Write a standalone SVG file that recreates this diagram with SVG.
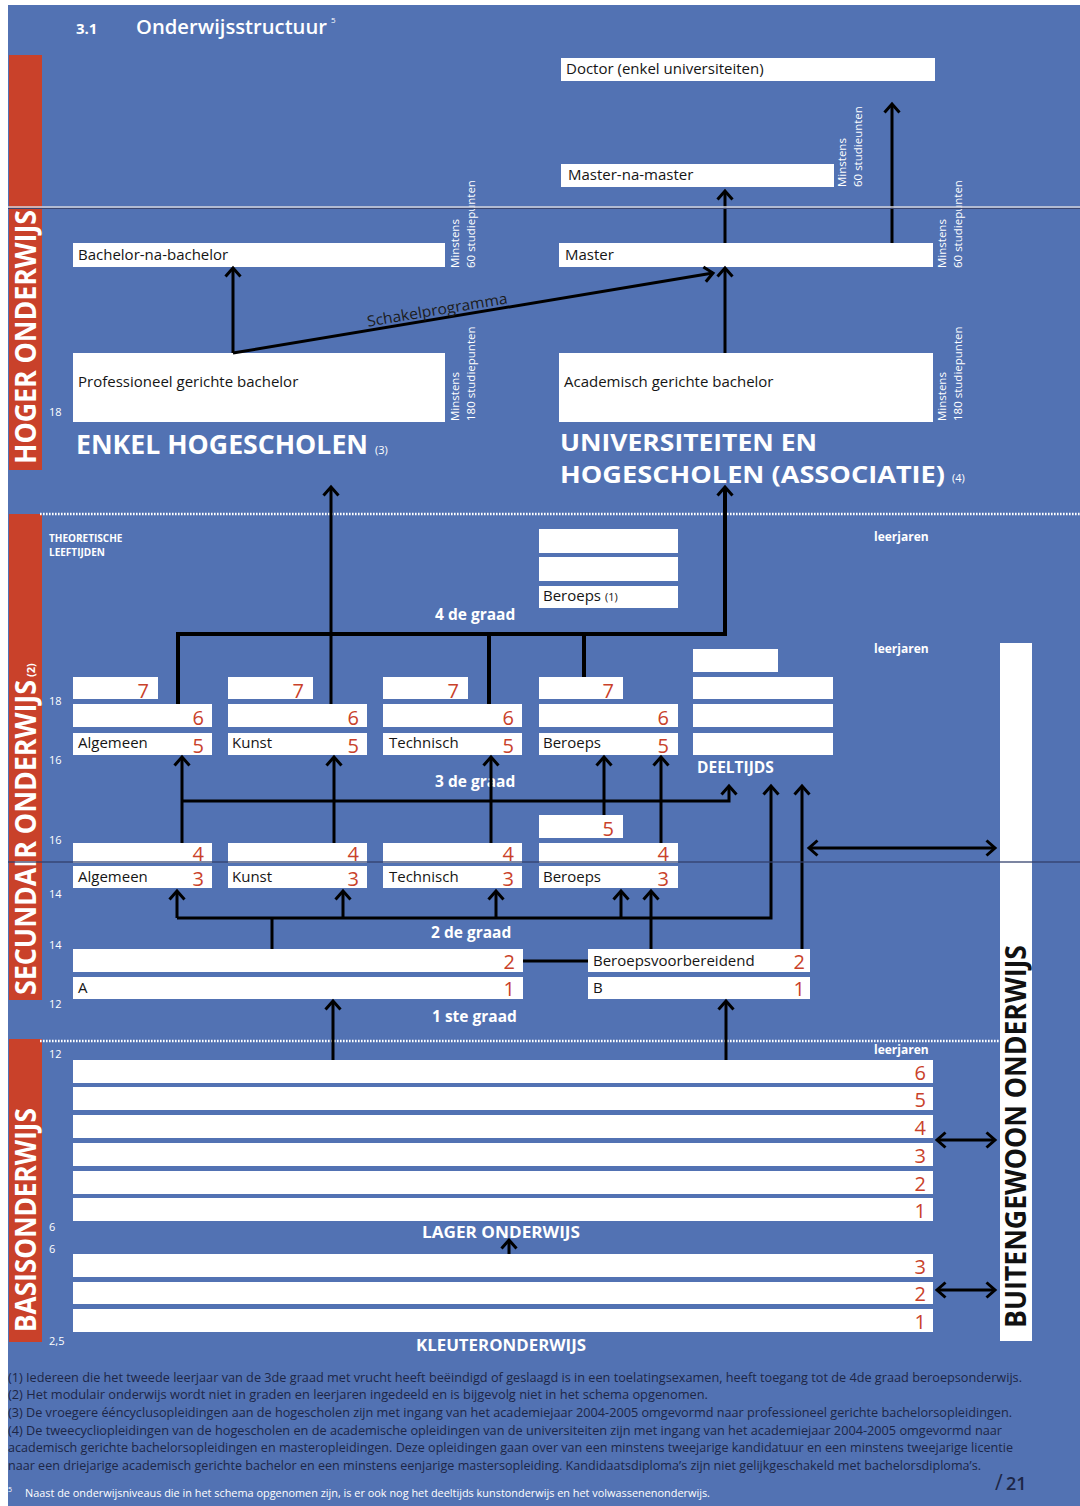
<svg xmlns="http://www.w3.org/2000/svg" width="1080" height="1506" viewBox="0 0 1080 1506">
<defs>
<style>
text{font-family:"Open Sans","Noto Sans","DejaVu Sans",sans-serif}
.bg{fill:#5272b3}
.rb{fill:#c9412a}
.bx{fill:#fff}
.bt{font-size:15px;fill:#151515;font-weight:500}
.dg{font-size:20px;fill:#c9412a;text-anchor:end;font-weight:500}
.hd{fill:#fff;font-weight:700}
.sm{font-size:11.5px;fill:#fff}
.age{font-size:11px;fill:#fff}
.ln{fill:none;stroke:#000;stroke-width:3}
.tk{stroke-width:4}
.ar{marker-end:url(#ah)}
.da{marker-start:url(#ah);marker-end:url(#ah)}
.fn{font-size:12px;fill:#1d2646}
.dot{stroke:#fff;stroke-width:2.5;stroke-dasharray:1.6 1.4}
</style>
<marker id="ah" markerUnits="userSpaceOnUse" viewBox="-12 -10 14 20" markerWidth="14" markerHeight="20" refX="0" refY="0" orient="auto-start-reverse" style="overflow:visible">
<path d="M-8.5,-7.5 L0,0 L-8.5,7.5" fill="none" stroke="#000" stroke-width="3"/>
</marker>
</defs>

<rect x="0" y="0" width="1080" height="1506" fill="#fff"/>
<rect class="bg" x="8" y="5" width="1072" height="1501"/>

<!-- side bars -->
<rect class="rb" x="9" y="55" width="33" height="415"/>
<rect class="rb" x="9" y="514" width="33" height="486"/>
<rect class="rb" x="9" y="1039" width="33" height="303"/>
<text class="hd" transform="translate(36,464) rotate(-90)" font-size="29" textLength="254" lengthAdjust="spacingAndGlyphs">HOGER ONDERWIJS</text>
<text class="hd" transform="translate(36,995) rotate(-90)" font-size="29" textLength="315" lengthAdjust="spacingAndGlyphs">SECUNDAIR ONDERWIJS</text>
<text class="hd" transform="translate(35,677) rotate(-90)" font-size="11">(2)</text>
<text class="hd" transform="translate(36,1332) rotate(-90)" font-size="29" textLength="224" lengthAdjust="spacingAndGlyphs">BASISONDERWIJS</text>

<!-- dotted separators -->
<line class="dot" x1="40" y1="514" x2="1080" y2="514"/>
<line class="dot" x1="40" y1="1041" x2="1000" y2="1041"/>

<!-- title -->
<text class="hd" x="76" y="34" font-size="15">3.1</text>
<text x="136" y="34" font-size="20" font-weight="600" fill="#fff" textLength="191" lengthAdjust="spacingAndGlyphs">Onderwijsstructuur</text>
<text x="331" y="23" font-size="8" fill="#fff">5</text>

<!-- age labels -->
<g id="ages">
<text class="age" x="49" y="416">18</text>
<text class="hd" x="49" y="542" font-size="10">THEORETISCHE</text>
<text class="hd" x="49" y="556" font-size="10">LEEFTIJDEN</text>
<text class="age" x="49" y="705">18</text>
<text class="age" x="49" y="764">16</text>
<text class="age" x="49" y="844">16</text>
<text class="age" x="49" y="898">14</text>
<text class="age" x="49" y="949">14</text>
<text class="age" x="49" y="1008">12</text>
<text class="age" x="49" y="1058">12</text>
<text class="age" x="49" y="1231">6</text>
<text class="age" x="49" y="1253">6</text>
<text class="age" x="49" y="1345">2,5</text>
<text class="hd" x="874" y="541" font-size="12">leerjaren</text>
<text class="hd" x="874" y="653" font-size="12">leerjaren</text>
<text class="hd" x="874" y="1054" font-size="12">leerjaren</text>
</g>

<!-- HOGER ONDERWIJS nodes -->
<g id="doctor">
<rect class="bx" x="561" y="58" width="374" height="23"/>
<text class="bt" x="566" y="74">Doctor (enkel universiteiten)</text>
</g>
<g id="master-na-master">
<rect class="bx" x="561" y="164" width="273" height="23"/>
<text class="bt" x="568" y="180">Master-na-master</text>
<text class="sm" transform="translate(846,187) rotate(-90)"><tspan x="0" y="0">Minstens</tspan><tspan x="0" y="16">60 studieunten</tspan></text>
</g>
<g id="master">
<rect class="bx" x="559" y="243" width="374" height="24"/>
<text class="bt" x="565" y="260">Master</text>
<text class="sm" transform="translate(946,268) rotate(-90)"><tspan x="0" y="0">Minstens</tspan><tspan x="0" y="16">60 studiepunten</tspan></text>
</g>
<g id="bachelor-na-bachelor">
<rect class="bx" x="73" y="243" width="372" height="24"/>
<text class="bt" x="78" y="260">Bachelor-na-bachelor</text>
<text class="sm" transform="translate(459,268) rotate(-90)"><tspan x="0" y="0">Minstens</tspan><tspan x="0" y="16">60 studiepunten</tspan></text>
</g>
<g id="prof-bachelor">
<rect class="bx" x="73" y="353" width="372" height="69"/>
<text class="bt" x="78" y="387">Professioneel gerichte bachelor</text>
<text class="sm" transform="translate(459,421) rotate(-90)"><tspan x="0" y="0">Minstens</tspan><tspan x="0" y="16">180 studiepunten</tspan></text>
</g>
<g id="acad-bachelor">
<rect class="bx" x="559" y="353" width="374" height="69"/>
<text class="bt" x="564" y="387">Academisch gerichte bachelor</text>
<text class="sm" transform="translate(946,421) rotate(-90)"><tspan x="0" y="0">Minstens</tspan><tspan x="0" y="16">180 studiepunten</tspan></text>
</g>
<g id="enkel-hogescholen">
<text class="hd" x="76" y="454" font-size="26" font-weight="600" textLength="292" lengthAdjust="spacingAndGlyphs">ENKEL HOGESCHOLEN</text>
<text x="375" y="454" font-size="11" fill="#fff">(3)</text>
</g>
<g id="universiteiten">
<text class="hd" x="560" y="451" font-size="23" font-weight="600" textLength="257" lengthAdjust="spacingAndGlyphs">UNIVERSITEITEN EN</text>
<text class="hd" x="560" y="483" font-size="23" font-weight="600" textLength="385" lengthAdjust="spacingAndGlyphs">HOGESCHOLEN (ASSOCIATIE)</text>
<text x="952" y="482" font-size="11" fill="#fff">(4)</text>
</g>

<!-- SECUNDAIR: 4de graad -->
<g id="graad4-beroeps">
<rect class="bx" x="539" y="529" width="139" height="24"/>
<rect class="bx" x="539" y="557" width="139" height="24"/>
<rect class="bx" x="539" y="586" width="139" height="22"/>
<text class="bt" x="543" y="601">Beroeps <tspan font-size="11">(1)</tspan></text>
</g>
<text class="hd" x="435" y="620" font-size="15.5">4 de graad</text>

<!-- 3de graad -->
<g id="graad3-algemeen">
<rect class="bx" x="73" y="677" width="85" height="22"/><text class="dg" x="149" y="698">7</text>
<rect class="bx" x="73" y="704" width="139" height="23"/><text class="dg" x="204" y="725">6</text>
<rect class="bx" x="73" y="733" width="139" height="22"/><text class="dg" x="204" y="753">5</text>
<text class="bt" x="78" y="748">Algemeen</text>
</g>
<g id="graad3-kunst">
<rect class="bx" x="228" y="677" width="85" height="22"/><text class="dg" x="304" y="698">7</text>
<rect class="bx" x="228" y="704" width="139" height="23"/><text class="dg" x="359" y="725">6</text>
<rect class="bx" x="228" y="733" width="139" height="22"/><text class="dg" x="359" y="753">5</text>
<text class="bt" x="232" y="748">Kunst</text>
</g>
<g id="graad3-technisch">
<rect class="bx" x="383" y="677" width="85" height="22"/><text class="dg" x="459" y="698">7</text>
<rect class="bx" x="383" y="704" width="139" height="23"/><text class="dg" x="514" y="725">6</text>
<rect class="bx" x="383" y="733" width="139" height="22"/><text class="dg" x="514" y="753">5</text>
<text class="bt" x="389" y="748">Technisch</text>
</g>
<g id="graad3-beroeps">
<rect class="bx" x="539" y="677" width="84" height="22"/><text class="dg" x="614" y="698">7</text>
<rect class="bx" x="539" y="704" width="139" height="23"/><text class="dg" x="669" y="725">6</text>
<rect class="bx" x="539" y="733" width="139" height="22"/><text class="dg" x="669" y="753">5</text>
<text class="bt" x="543" y="748">Beroeps</text>
</g>
<g id="deeltijds">
<rect class="bx" x="693" y="649" width="85" height="23"/>
<rect class="bx" x="693" y="677" width="140" height="22"/>
<rect class="bx" x="693" y="704" width="140" height="23"/>
<rect class="bx" x="693" y="733" width="140" height="22"/>
<text class="hd" x="697" y="773" font-size="15.5">DEELTIJDS</text>
</g>
<text class="hd" x="435" y="787" font-size="15.5">3 de graad</text>

<!-- 2de graad -->
<g id="graad2-algemeen">
<rect class="bx" x="73" y="843" width="139" height="20"/><text class="dg" x="204" y="861">4</text>
<rect class="bx" x="73" y="866" width="139" height="22"/><text class="dg" x="204" y="886">3</text>
<text class="bt" x="78" y="882">Algemeen</text>
</g>
<g id="graad2-kunst">
<rect class="bx" x="228" y="843" width="139" height="20"/><text class="dg" x="359" y="861">4</text>
<rect class="bx" x="228" y="866" width="139" height="22"/><text class="dg" x="359" y="886">3</text>
<text class="bt" x="232" y="882">Kunst</text>
</g>
<g id="graad2-technisch">
<rect class="bx" x="383" y="843" width="139" height="20"/><text class="dg" x="514" y="861">4</text>
<rect class="bx" x="383" y="866" width="139" height="22"/><text class="dg" x="514" y="886">3</text>
<text class="bt" x="389" y="882">Technisch</text>
</g>
<g id="graad2-beroeps">
<rect class="bx" x="539" y="815" width="84" height="23"/><text class="dg" x="614" y="836">5</text>
<rect class="bx" x="539" y="843" width="139" height="20"/><text class="dg" x="669" y="861">4</text>
<rect class="bx" x="539" y="866" width="139" height="22"/><text class="dg" x="669" y="886">3</text>
<text class="bt" x="543" y="882">Beroeps</text>
</g>
<text class="hd" x="431" y="938" font-size="15.5">2 de graad</text>

<!-- 1ste graad -->
<g id="graad1-a">
<rect class="bx" x="73" y="949" width="450" height="23"/><text class="dg" x="515" y="969">2</text>
<rect class="bx" x="73" y="977" width="450" height="22"/><text class="dg" x="515" y="996">1</text>
<text class="bt" x="78" y="993" font-size="14">A</text>
</g>
<g id="graad1-b">
<rect class="bx" x="588" y="949" width="222" height="23"/><text class="dg" x="805" y="969">2</text>
<rect class="bx" x="588" y="977" width="222" height="22"/><text class="dg" x="805" y="996">1</text>
<text class="bt" x="593" y="966">Beroepsvoorbereidend</text>
<text class="bt" x="593" y="993" font-size="14">B</text>
</g>
<text class="hd" x="432" y="1022" font-size="15.5">1 ste graad</text>

<!-- BASISONDERWIJS -->
<g id="lager-onderwijs">
<rect class="bx" x="73" y="1060" width="860" height="23"/><text class="dg" x="926" y="1080">6</text>
<rect class="bx" x="73" y="1087" width="860" height="23"/><text class="dg" x="926" y="1107">5</text>
<rect class="bx" x="73" y="1115" width="860" height="23"/><text class="dg" x="926" y="1135">4</text>
<rect class="bx" x="73" y="1143" width="860" height="23"/><text class="dg" x="926" y="1163">3</text>
<rect class="bx" x="73" y="1171" width="860" height="23"/><text class="dg" x="926" y="1191">2</text>
<rect class="bx" x="73" y="1198" width="860" height="23"/><text class="dg" x="926" y="1218">1</text>
<text class="hd" x="422" y="1238" font-size="15.5" textLength="158" lengthAdjust="spacingAndGlyphs">LAGER ONDERWIJS</text>
</g>
<g id="kleuteronderwijs">
<rect class="bx" x="73" y="1254" width="860" height="23"/><text class="dg" x="926" y="1274">3</text>
<rect class="bx" x="73" y="1282" width="860" height="22"/><text class="dg" x="926" y="1301">2</text>
<rect class="bx" x="73" y="1309" width="860" height="23"/><text class="dg" x="926" y="1329">1</text>
<text class="hd" x="416" y="1351" font-size="15.5" textLength="170" lengthAdjust="spacingAndGlyphs">KLEUTERONDERWIJS</text>
</g>

<!-- BUITENGEWOON ONDERWIJS -->
<g id="buitengewoon">
<rect class="bx" x="1000" y="643" width="32" height="698"/>
<text transform="translate(1026,1328) rotate(-90)" font-size="28" font-weight="700" fill="#111" textLength="383" lengthAdjust="spacingAndGlyphs">BUITENGEWOON ONDERWIJS</text>
</g>

<!-- connectors -->
<g id="connectors">
<path class="ln ar" d="M233,353 V268"/>
<path class="ln ar" d="M233,353 L713,273"/>
<path class="ln ar" d="M725,353 V268"/>
<path class="ln ar" d="M725,243 V191"/>
<path class="ln ar" d="M892,243 V104"/>
<path class="ln ar" d="M331,704 V487"/>
<path class="ln tk ar" d="M178,704 V634 H725 V487"/>
<path class="ln tk" d="M489,634 V704"/>
<path class="ln tk" d="M584,634 V677"/>

<path class="ln ar" d="M181,801 H729 V786"/>
<path class="ln ar" d="M182,843 V757"/>
<path class="ln ar" d="M334,843 V757"/>
<path class="ln ar" d="M491,843 V757"/>
<path class="ln ar" d="M604,815 V757"/>
<path class="ln ar" d="M661,843 V757"/>

<path class="ln ar" d="M177,918 H771 V786"/>
<path class="ln ar" d="M177,918 V891"/>
<path class="ln ar" d="M343,918 V891"/>
<path class="ln ar" d="M496,918 V891"/>
<path class="ln ar" d="M621,918 V891"/>
<path class="ln ar" d="M651,949 V891"/>
<path class="ln" d="M272,918 V949"/>
<path class="ln ar" d="M802,949 V786"/>
<path class="ln da" d="M809,848 H995"/>

<path class="ln" d="M523,961 H588"/>
<path class="ln ar" d="M333,1060 V1001"/>
<path class="ln ar" d="M726,1060 V1001"/>

<path class="ln ar" d="M509,1254 V1240"/>
<path class="ln da" d="M937,1140 H995"/>
<path class="ln da" d="M937,1290 H995"/>
<text transform="translate(438,315) rotate(-9.46)" text-anchor="middle" font-size="15" font-weight="500" fill="#1c1c1c" textLength="142" lengthAdjust="spacingAndGlyphs">Schakelprogramma</text>
</g>

<!-- fold lines -->
<line x1="8" y1="207" x2="1080" y2="207" stroke="#d3d5dc" stroke-width="1.5"/>
<line x1="8" y1="208.5" x2="1080" y2="208.5" stroke="#3b4670" stroke-width="1"/>
<line x1="8" y1="862" x2="1080" y2="862" stroke="#33416c" stroke-width="1.5" opacity="0.85"/>

<!-- footnotes -->
<g id="footnotes">
<text class="fn" x="8" y="1382" textLength="1014" lengthAdjust="spacingAndGlyphs">(1) Iedereen die het tweede leerjaar van de 3de graad met vrucht heeft beëindigd of geslaagd is in een toelatingsexamen, heeft toegang tot de 4de graad beroepsonderwijs.</text>
<text class="fn" x="8" y="1399" textLength="700" lengthAdjust="spacingAndGlyphs">(2) Het modulair onderwijs wordt niet in graden en leerjaren ingedeeld en is bijgevolg niet in het schema opgenomen.</text>
<text class="fn" x="8" y="1417" textLength="1004" lengthAdjust="spacingAndGlyphs">(3) De vroegere ééncyclusopleidingen aan de hogescholen zijn met ingang van het academiejaar 2004-2005 omgevormd naar professioneel gerichte bachelorsopleidingen.</text>
<text class="fn" x="8" y="1435" textLength="994" lengthAdjust="spacingAndGlyphs">(4) De tweecycliopleidingen van de hogescholen en de academische opleidingen van de universiteiten zijn met ingang van het academiejaar 2004-2005 omgevormd naar</text>
<text class="fn" x="8" y="1452" textLength="1005" lengthAdjust="spacingAndGlyphs">academisch gerichte bachelorsopleidingen en masteropleidingen. Deze opleidingen gaan over van een minstens tweejarige kandidatuur en een minstens tweejarige licentie</text>
<text class="fn" x="8" y="1470" textLength="973" lengthAdjust="spacingAndGlyphs">naar een driejarige academisch gerichte bachelor en een minstens eenjarige mastersopleiding. Kandidaatsdiploma’s zijn niet gelijkgeschakeld met bachelorsdiploma’s.</text>
<text x="8" y="1492" font-size="7" fill="#fff">5</text>
<text x="25" y="1497" font-size="10" fill="#fff" textLength="685" lengthAdjust="spacingAndGlyphs">Naast de onderwijsniveaus die in het schema opgenomen zijn, is er ook nog het deeltijds kunstonderwijs en het volwassenenonderwijs.</text>
<text x="995" y="1490" font-size="21" fill="#1d2646">/</text>
<text x="1006" y="1490" font-size="18" font-weight="600" fill="#1d2646">21</text>
</g>
</svg>
